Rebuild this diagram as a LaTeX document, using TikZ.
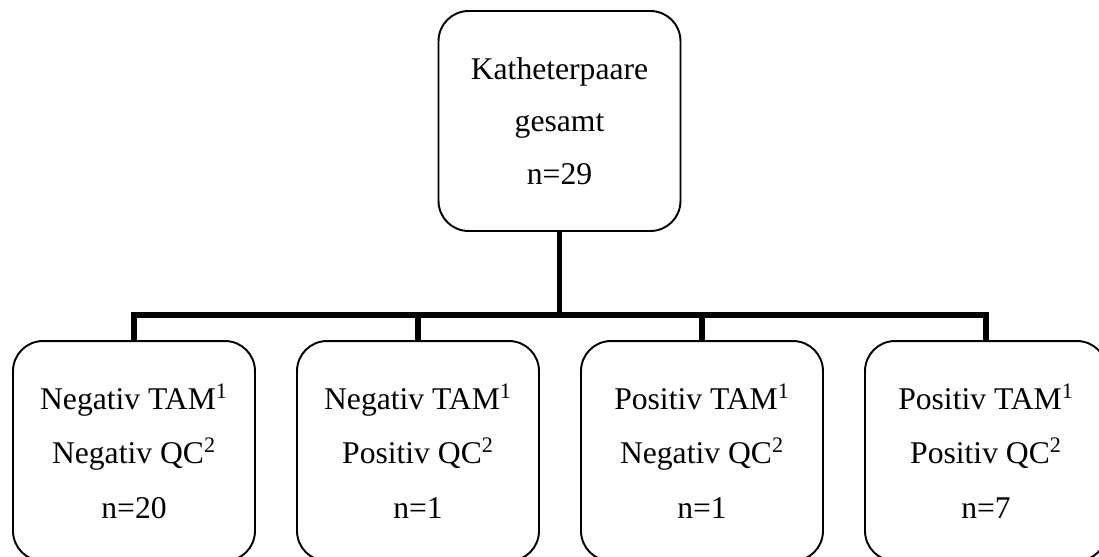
\documentclass[tikz,border=0pt]{standalone}
\usepackage{fontspec}
\setmainfont{Liberation Serif}
\usetikzlibrary{calc}

\begin{document}
\begin{tikzpicture}[x=0.02cm, y=-0.02cm,
    box/.style={draw, line width=1.1pt, rounded corners=0.6cm, minimum width=4.84cm,
        minimum height=4.4cm, align=center, font=\fontsize{18}{30}\selectfont},
    link/.style={line width=3.4pt}]
    \clip (0,0) rectangle (1099,556);

    \node[box] (top) at (559.5,121) {Katheterpaare\\gesamt\\n=29};
    \coordinate (bar) at (0,315);

    \foreach \i/\tam/\qc/\n in {1/Negativ/Negativ/20, 2/Negativ/Positiv/1,
                                3/Positiv/Negativ/1, 4/Positiv/Positiv/7}{
        \node[box, font=\fontsize{18}{31}\selectfont] (b\i) at ({134+284*(\i-1)},451)
            {\tam\ TAM\textsuperscript{1}\\\qc\ QC\textsuperscript{2}\\n=\n};
    }

    % tree lines
    \draw[link] (top.south) -- (top.south |- bar);
    \draw[link] (b1.north) -- (b1.north |- bar) -- (b4.north |- bar) -- (b4.north);
    \foreach \i in {2,3}{
        \draw[link] (b\i.north |- bar) -- (b\i.north);
    }
\end{tikzpicture}
\end{document}
